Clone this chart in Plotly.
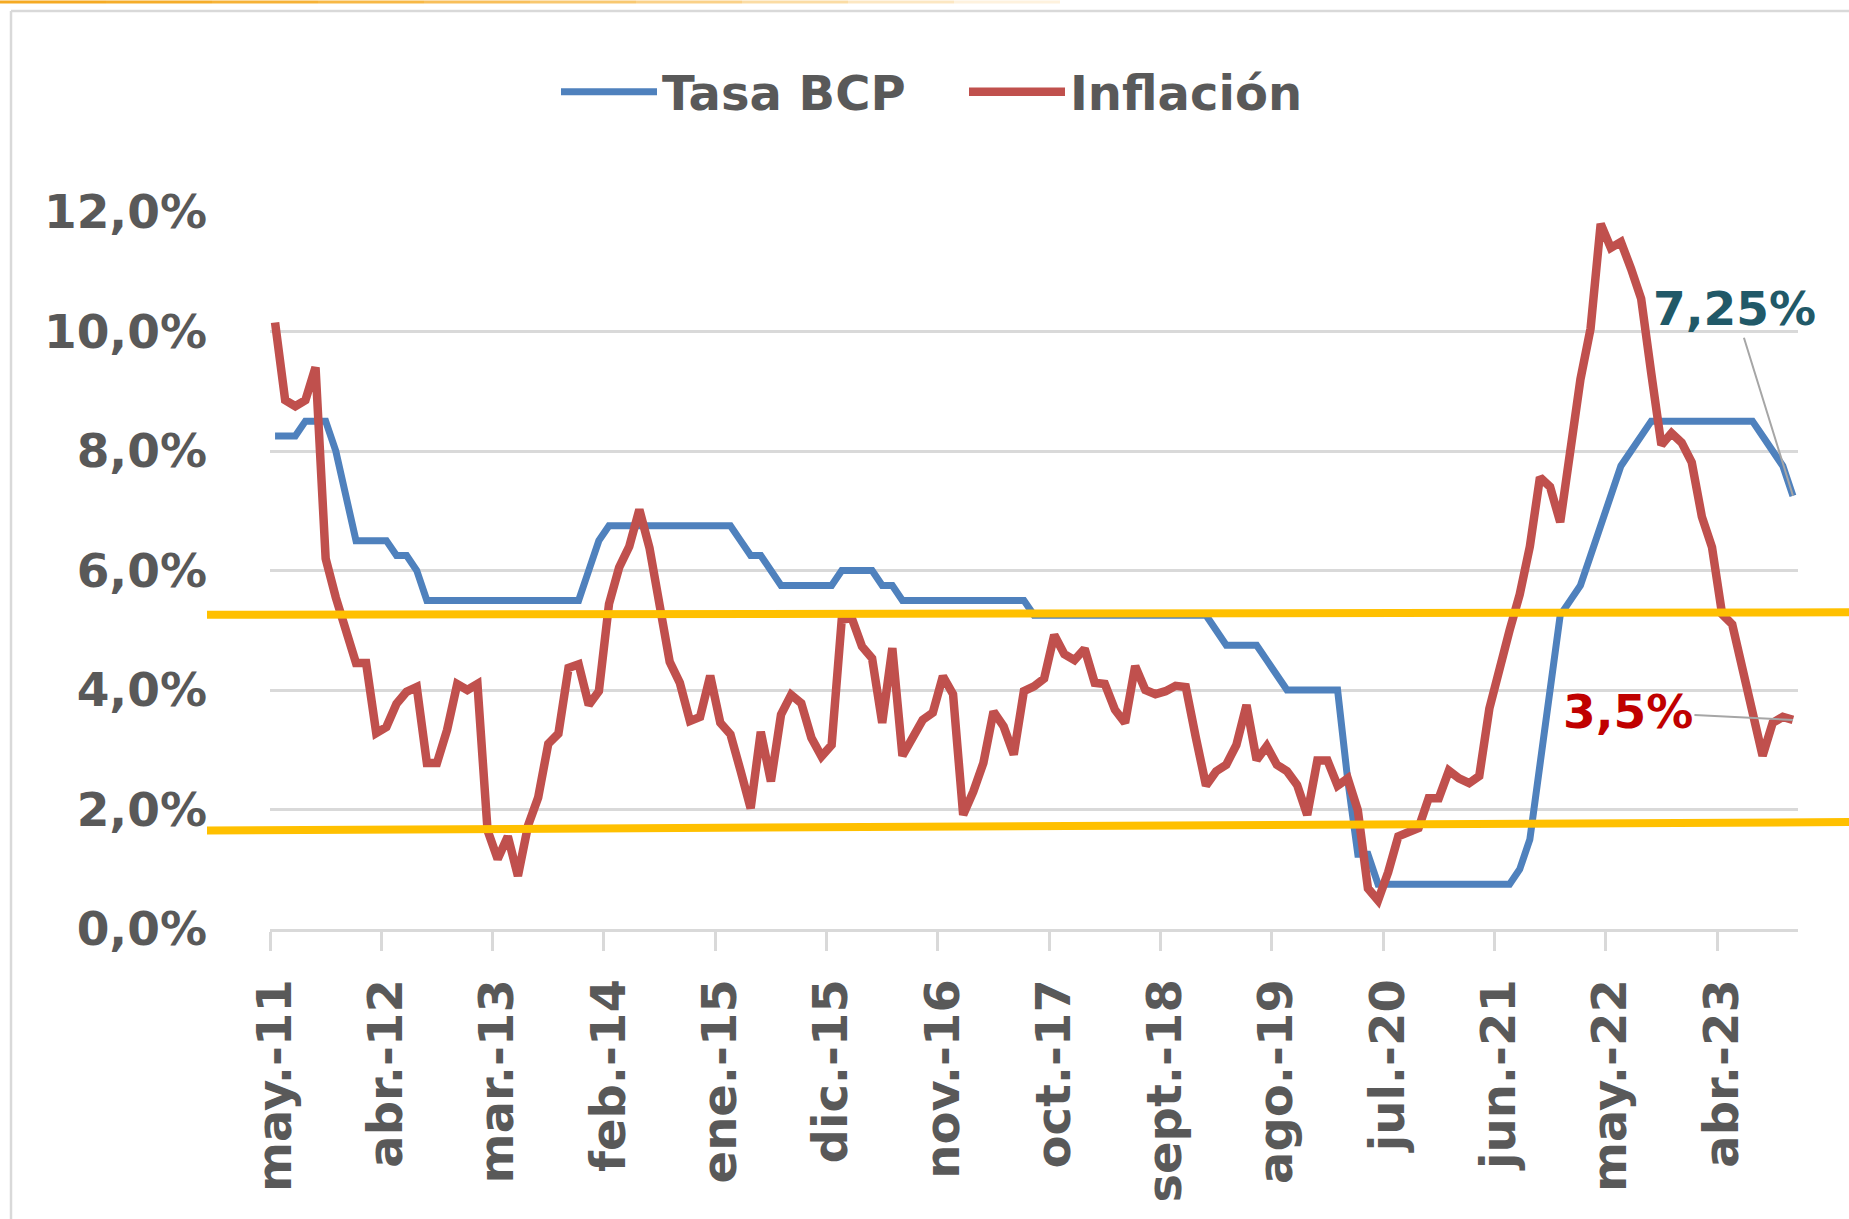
import plotly.graph_objects as go

# ---------------- data ----------------
meses = ["ene.", "feb.", "mar.", "abr.", "may.", "jun.", "jul.", "ago.", "sept.", "oct.", "nov.", "dic."]

tasa_bcp = [
    8.25, 8.25, 8.25, 8.5, 8.5, 8.5, 8.0, 7.25, 6.5, 6.5,
    6.5, 6.5, 6.25, 6.25, 6.0, 5.5, 5.5, 5.5, 5.5, 5.5,
    5.5, 5.5, 5.5, 5.5, 5.5, 5.5, 5.5, 5.5, 5.5, 5.5,
    5.5, 6.0, 6.5, 6.75, 6.75, 6.75, 6.75, 6.75, 6.75, 6.75,
    6.75, 6.75, 6.75, 6.75, 6.75, 6.75, 6.5, 6.25, 6.25, 6.0,
    5.75, 5.75, 5.75, 5.75, 5.75, 5.75, 6.0, 6.0, 6.0, 6.0,
    5.75, 5.75, 5.5, 5.5, 5.5, 5.5, 5.5, 5.5, 5.5, 5.5,
    5.5, 5.5, 5.5, 5.5, 5.5, 5.25, 5.25, 5.25, 5.25, 5.25,
    5.25, 5.25, 5.25, 5.25, 5.25, 5.25, 5.25, 5.25, 5.25, 5.25,
    5.25, 5.25, 5.25, 5.0, 4.75, 4.75, 4.75, 4.75, 4.5, 4.25,
    4.0, 4.0, 4.0, 4.0, 4.0, 4.0, 2.5, 1.25, 1.25, 0.75,
    0.75, 0.75, 0.75, 0.75, 0.75, 0.75, 0.75, 0.75, 0.75, 0.75,
    0.75, 0.75, 0.75, 1.0, 1.5, 2.75, 4.0, 5.25, 5.5, 5.75,
    6.25, 6.75, 7.25, 7.75, 8.0, 8.25, 8.5, 8.5, 8.5, 8.5,
    8.5, 8.5, 8.5, 8.5, 8.5, 8.5, 8.5, 8.25, 8.0, 7.75,
    7.25,
]

inflacion = [
    10.15, 8.85, 8.75, 8.85, 9.4, 6.2, 5.55, 4.95, 4.45, 4.45,
    3.28, 3.38, 3.77, 3.97, 4.05, 2.78, 2.78, 3.33, 4.1, 4.0,
    4.1, 1.65, 1.17, 1.55, 0.89, 1.73, 2.2, 3.1, 3.27, 4.37,
    4.43, 3.75, 3.98, 5.44, 6.05, 6.4, 7.02, 6.38, 5.38, 4.47,
    4.12, 3.48, 3.55, 4.24, 3.45, 3.26, 2.65, 2.02, 3.3, 2.47,
    3.59, 3.92, 3.78, 3.2, 2.89, 3.08, 5.18, 5.2, 4.73, 4.53,
    3.45, 4.7, 2.9, 3.2, 3.5, 3.62, 4.23, 3.93, 1.91, 2.3,
    2.78, 3.64, 3.39, 2.92, 3.98, 4.06, 4.19, 4.92, 4.6, 4.5,
    4.69, 4.12, 4.1, 3.67, 3.45, 4.4, 4.0, 3.93, 3.98, 4.07,
    4.05, 3.2, 2.4, 2.64, 2.75, 3.08, 3.75, 2.83, 3.06, 2.75,
    2.64, 2.41, 1.91, 2.82, 2.82, 2.4, 2.52, 1.99, 0.68, 0.48,
    0.95, 1.55, 1.62, 1.69, 2.19, 2.19, 2.65, 2.52, 2.44, 2.56,
    3.69, 4.4, 5.0, 5.6, 6.4, 7.56, 7.4, 6.81, 7.9, 9.2,
    10.05, 11.8, 11.4, 11.5, 11.05, 10.55, 9.3, 8.1, 8.3, 8.14,
    7.81, 6.9, 6.39, 5.27, 5.1, 4.4, 3.6, 2.9, 3.45, 3.55,
    3.5,
]

etiquetas_x = ["may.-11", "abr.-12", "mar.-13", "feb.-14", "ene.-15", "dic.-15", "nov.-16",
               "oct.-17", "sept.-18", "ago.-19", "jul.-20", "jun.-21", "may.-22", "abr.-23"]

# target band (hand drawn lines): (left value, right value)
banda_superior = (5.26, 5.30)
banda_inferior = (1.65, 1.79)

# month labels, starting May 2011
fechas = []
anio, mes = 2011, 4
for _ in range(len(tasa_bcp)):
    fechas.append(f"{meses[mes]}-{str(anio)[2:]}")
    mes += 1
    if mes == 12:
        mes, anio = 0, anio + 1

x_idx = list(range(len(fechas)))
tickvals = [fechas.index(e) for e in etiquetas_x]

# ---------------- layout geometry ----------------
W, H = 1849, 1219
ML, MR, MT, MB = 270, 51, 212, 290
PW, PH = W - ML - MR, H - MT - MB


def px(xp):
    return (xp - ML) / PW


def py(yp):
    return (H - MB - yp) / PH


GRAY_TXT = "#595959"
GRID = "#D9D9D9"
FONT = "DejaVu Sans"

fig = go.Figure()
fig.add_trace(go.Scatter(
    x=x_idx, y=tasa_bcp, name="Tasa BCP", mode="lines",
    line=dict(color="#4F81BD", width=7), text=fechas,
))
fig.add_trace(go.Scatter(
    x=x_idx, y=inflacion, name="Inflación", mode="lines",
    line=dict(color="#C0504D", width=8.5), text=fechas,
))

shapes = []
# target band lines (on top)
for (v0, v1) in (banda_superior, banda_inferior):
    shapes.append(dict(type="line", xref="paper", yref="y",
                       x0=px(207), x1=px(1860), y0=v0, y1=v1,
                       line=dict(color="#FFC000", width=8), layer="above"))
# outer light border
shapes.append(dict(type="line", xref="paper", yref="paper",
                   x0=px(11), x1=px(1860), y0=py(11), y1=py(11),
                   line=dict(color=GRID, width=2.5), layer="above"))
shapes.append(dict(type="line", xref="paper", yref="paper",
                   x0=px(11), x1=px(11), y0=py(11), y1=py(1230),
                   line=dict(color=GRID, width=2.5), layer="above"))
# decorative fading orange line at the very top
segs = 10
for i in range(segs):
    a = 1 - (i / segs) ** 1.5
    shapes.append(dict(type="line", xref="paper", yref="paper",
                       x0=px(i * 106), x1=px((i + 1) * 106), y0=py(2), y1=py(2),
                       line=dict(color=f"rgba(245,170,35,{a:.2f})", width=3), layer="above"))


def fmt(v):
    return f"{v:g}".replace(".", ",") + "%"


annotations = [
    dict(x=x_idx[-1], y=tasa_bcp[-1], xref="x", yref="y", text=fmt(tasa_bcp[-1]),
         showarrow=True, arrowhead=0, arrowwidth=2, arrowcolor="#A6A6A6",
         ax=-58, ay=-187, font=dict(family=FONT, size=47, color="#215968", weight="bold")),
    dict(x=x_idx[-1], y=inflacion[-1], xref="x", yref="y", text=fmt(inflacion[-1]),
         showarrow=True, arrowhead=0, arrowwidth=2, arrowcolor="#A6A6A6",
         ax=-165, ay=-8, font=dict(family=FONT, size=47, color="#C00000", weight="bold")),
]

fig.update_layout(
    width=W, height=H,
    margin=dict(l=ML, r=MR, t=MT, b=MB),
    paper_bgcolor="white", plot_bgcolor="white",
    separators=",.",
    font=dict(family=FONT, size=47, color=GRAY_TXT, weight="bold"),
    showlegend=True,
    legend=dict(orientation="h", x=px(556), xanchor="left", y=py(92), yanchor="middle",
                font=dict(family=FONT, size=48, color=GRAY_TXT, weight="bold"),
                itemwidth=96, entrywidth=297, entrywidthmode="pixels",
                bgcolor="rgba(0,0,0,0)", traceorder="normal"),
    shapes=shapes,
    annotations=annotations,
    xaxis=dict(
        range=[-0.5, len(x_idx) - 0.5],
        tickmode="array", tickvals=tickvals, ticktext=etiquetas_x,
        tickangle=-90, ticks="", ticklabelstandoff=28,
        showgrid=False, zeroline=False,
        showline=True, linecolor=GRID, linewidth=3,
        tickfont=dict(family=FONT, size=48, color=GRAY_TXT, weight="bold"),
        minor=dict(tickmode="linear", tick0=-0.5, dtick=11, ticks="outside",
                   ticklen=19, tickwidth=2.5, tickcolor=GRID, showgrid=False),
    ),
    yaxis=dict(
        range=[0, 12], tickmode="linear", tick0=0, dtick=2,
        tickformat=".1f", ticksuffix="%",
        showgrid=True, gridcolor=GRID, gridwidth=2.5, zeroline=False,
        ticks="", ticklabelstandoff=62,
        tickfont=dict(family=FONT, size=47, color=GRAY_TXT, weight="bold"),
    ),
)

fig.write_html("out.html", config={"displayModeBar": False},
               post_script="document.body.style.margin='0';")
